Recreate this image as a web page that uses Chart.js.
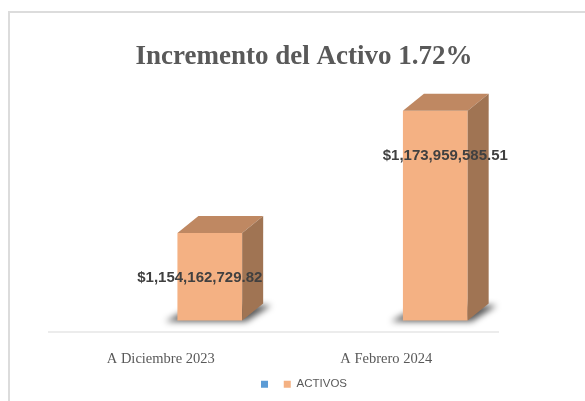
<!DOCTYPE html>
<html>
<head>
<meta charset="utf-8">
<script src="https://cdn.jsdelivr.net/npm/chart.js@4.4.1/dist/chart.umd.min.js"></script>
<style>
  html, body { margin: 0; padding: 0; background: #fff; overflow: hidden; }
  #marco { position: absolute; left: 8px; top: 11px; width: 640px; height: 440px;
           border-left: 2px solid #dcdcdc; border-top: 2px solid #dcdcdc; pointer-events: none; }
  #wrap { position: absolute; left: 0; top: 0; width: 608px; height: 401px; }
</style>
</head>
<body>
<div id="wrap"><canvas id="myChart" width="608" height="401"></canvas></div>
<div id="marco"></div>
<script>
const categorias = ["A Diciembre 2023", "A Febrero 2024"];
const activos = [1154162729.82, 1173959585.51];
const serieVacia = [null, null];
const yMin = 1140000000;
const yMax = 1180000000;

const colorFrente = "#F4B183";
const colorTapa = "#BF8862";
const colorLado = "#A07453";

function formatoMoneda(v) {
    return "$" + v.toLocaleString("en-US", { minimumFractionDigits: 2, maximumFractionDigits: 2 });
}

// caras 3D, sombra, linea del eje y etiquetas
const barras3D = {
    id: "barras3D",
    beforeDatasetsDraw(chart) {
        const ctx = chart.ctx;
        const area = chart.chartArea;
        const meta = chart.getDatasetMeta(1);
        const dx = 21, dy = 17;
        ctx.save();
        ctx.filter = "blur(3px)";
        ctx.fillStyle = "rgba(0,0,0,0.65)";
        meta.data.forEach(bar => {
            const left = bar.x - bar.width / 2;
            const right = bar.x + bar.width / 2;
            const bottom = Math.min(bar.base, area.bottom);
            ctx.beginPath();
            ctx.moveTo(left - 12, bottom + 1);
            ctx.lineTo(right + 4, bottom + 1);
            ctx.lineTo(right + dx + 8, bottom - dy + 2);
            ctx.lineTo(left + dx, bottom - dy);
            ctx.closePath();
            ctx.fill();
        });
        ctx.restore();
    },
    afterDatasetsDraw(chart) {
        const ctx = chart.ctx;
        const area = chart.chartArea;
        const meta = chart.getDatasetMeta(1);
        const dx = 21, dy = 17;
        ctx.save();

        meta.data.forEach(bar => {
            const left = bar.x - bar.width / 2;
            const right = bar.x + bar.width / 2;
            const top = bar.y;
            const bottom = Math.min(bar.base, area.bottom);

            ctx.fillStyle = colorTapa;
            ctx.beginPath();
            ctx.moveTo(left, top);
            ctx.lineTo(left + dx, top - dy);
            ctx.lineTo(right + dx, top - dy);
            ctx.lineTo(right, top);
            ctx.closePath();
            ctx.fill();

            ctx.fillStyle = colorLado;
            ctx.beginPath();
            ctx.moveTo(right, top);
            ctx.lineTo(right + dx, top - dy);
            ctx.lineTo(right + dx, bottom - dy);
            ctx.lineTo(right, bottom);
            ctx.closePath();
            ctx.fill();
        });

        // linea del eje
        ctx.strokeStyle = "#d9d9d9";
        ctx.lineWidth = 1;
        ctx.beginPath();
        ctx.moveTo(area.left, area.bottom + 11.5);
        ctx.lineTo(area.right, area.bottom + 11.5);
        ctx.stroke();

        // etiquetas de datos
        ctx.font = "bold 15px 'Liberation Sans', Arial, sans-serif";
        ctx.fillStyle = "#404040";
        ctx.textAlign = "center";
        ctx.textBaseline = "middle";
        meta.data.forEach((bar, i) => {
            const corrimiento = i === 0 ? -10 : 10;
            ctx.fillText(formatoMoneda(activos[i]), bar.x + corrimiento, bar.y + 45);
        });
        ctx.restore();
    }
};

const data = {
    labels: categorias,
    datasets: [
        {
            label: "",
            data: serieVacia,
            backgroundColor: "#5B9BD5",
            categoryPercentage: 0.87,
            barPercentage: 0.66
        },
        {
            label: "ACTIVOS",
            data: activos,
            backgroundColor: colorFrente,
            categoryPercentage: 0.87,
            barPercentage: 0.66
        }
    ]
};

const config = {
    type: "bar",
    data,
    options: {
        responsive: false,
        animation: false,
        layout: { padding: { top: 0, bottom: 1, left: 0, right: 0 } },
        plugins: {
            title: {
                display: true,
                text: "Incremento del Activo 1.72%",
                color: "#595959",
                font: { family: "'Liberation Serif', 'DejaVu Serif', serif", size: 27, weight: "bold" },
                padding: { top: 41, bottom: 0 }
            },
            legend: {
                position: "bottom",
                labels: {
                    boxWidth: 7,
                    boxHeight: 7,
                    color: "#595959",
                    padding: 10,
                    font: { family: "'Liberation Sans', Arial, sans-serif", size: 11.5 }
                }
            },
            tooltip: { enabled: false }
        },
        scales: {
            x: {
                grid: { display: false },
                border: { display: false },
                ticks: {
                    color: "#595959",
                    padding: 22,
                    font: { family: "'Liberation Serif', 'DejaVu Serif', serif", size: 14.5 }
                },
                afterFit: s => { s.height = 48; }
            },
            y: {
                min: yMin,
                max: yMax,
                grid: { display: false },
                border: { display: false },
                ticks: { display: false },
                afterFit: s => { s.width = 48; }
            },
            y2: {
                position: "right",
                min: yMin,
                max: yMax,
                grid: { display: false },
                border: { display: false },
                ticks: { display: false },
                afterFit: s => { s.width = 109; }
            }
        }
    },
    plugins: [barras3D]
};

const chart = new Chart(document.getElementById("myChart"), config);
</script>
</body>
</html>
